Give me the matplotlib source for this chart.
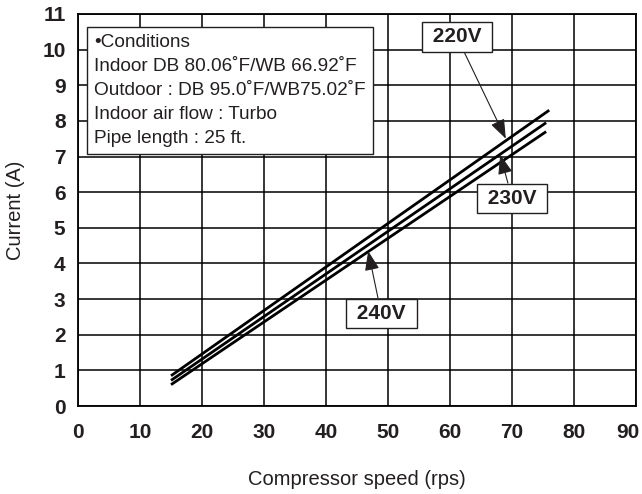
import matplotlib
matplotlib.use("Agg")
import matplotlib.pyplot as plt
from matplotlib.transforms import ScaledTranslation

# Current vs compressor speed for three supply voltages
voltages = ["220V", "230V", "240V"]
speed = {
    "220V": [15, 76],
    "230V": [15, 75.5],
    "240V": [15, 75.5],
}
current = {
    "220V": [0.85, 8.3],
    "230V": [0.72, 7.95],
    "240V": [0.6, 7.7],
}

x_ticks = list(range(0, 91, 10))
y_ticks = list(range(0, 12))

conditions = [
    "•Conditions",
    "Indoor DB 80.06˚F/WB 66.92˚F",
    "Outdoor : DB 95.0˚F/WB75.02˚F",
    "Indoor air flow : Turbo",
    "Pipe length : 25 ft.",
]

# label box centre and arrow tip for each voltage
label_pos = {"220V": (61.1, 10.36), "230V": (70.0, 5.83), "240V": (48.9, 2.6)}
arrow_tip = {"220V": (69.0, 7.5), "230V": (68.1, 7.05), "240V": (46.8, 4.35)}

INK = "#231f20"
plt.rcParams['font.family'] = ['Liberation Sans', 'DejaVu Sans']

fig = plt.figure(figsize=(6.42, 4.94), dpi=100)
ax = fig.add_axes([0.1215, 0.178, 0.8692, 0.7937])

for v in voltages:
    ax.plot(speed[v], current[v], color="black", lw=2.0, solid_capstyle="butt", zorder=3)

ax.set_xlim(0, 90)
ax.set_ylim(0, 11)
ax.set_xticks(x_ticks)
ax.set_yticks(y_ticks)
ax.grid(True, color="black", lw=1.1)
ax.tick_params(length=0, labelcolor=INK)
ax.tick_params(axis="x", pad=12)
ax.tick_params(axis="y", pad=9)
for lab in ax.get_xticklabels() + ax.get_yticklabels():
    lab.set_fontweight("bold")
    lab.set_fontsize(15)
# keep the last x label inside the figure
last = ax.get_xticklabels()[-1]
last.set_transform(last.get_transform() + ScaledTranslation(-6 / 72, 0, fig.dpi_scale_trans))
for s in ax.spines.values():
    s.set_linewidth(1.3)

ax.set_xlabel("Compressor speed (rps)", fontsize=14.5, color=INK, labelpad=20)
ax.set_ylabel("Current (A)", fontsize=14.5, color=INK, labelpad=12)

ax.text(2.6, 10.43, "\n".join(conditions), fontsize=13.7, color=INK,
        va="top", ha="left", linespacing=1.53, zorder=5,
        bbox=dict(boxstyle="square,pad=0.4", fc="white", ec=INK, lw=1.0))

for v in voltages:
    ax.annotate(f" {v} ", xy=arrow_tip[v], xytext=label_pos[v],
                ha="center", va="center", fontsize=15, fontweight="bold",
                color=INK, zorder=6,
                bbox=dict(boxstyle="square,pad=0.25", fc="white", ec=INK, lw=1.0),
                arrowprops=dict(arrowstyle="-|>,head_length=0.8,head_width=0.3",
                                color=INK, lw=0.8, shrinkA=0, shrinkB=0))

fig.savefig("out.png", dpi=100)
